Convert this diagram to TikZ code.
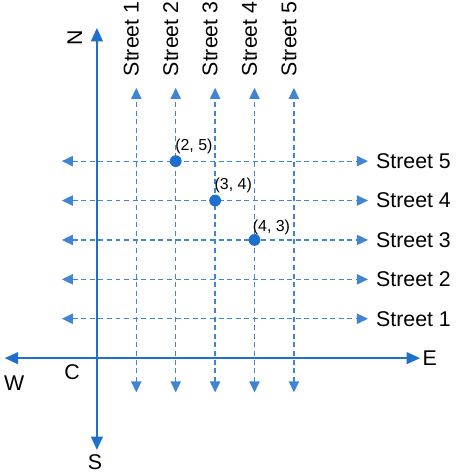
\documentclass[tikz,border=0pt]{standalone}
\usepackage{fontspec}
\setmainfont{Liberation Sans}
\usetikzlibrary{arrows.meta,calc}
\definecolor{mapblue}{RGB}{30,112,205}

\begin{document}
\begin{tikzpicture}[every node/.style={font=\fontsize{15.4}{18}\selectfont, inner sep=0pt},
  axis/.style={draw=mapblue, line width=1.3pt, -{Triangle[length=3.4mm, width=3mm]}},
  street/.style={draw=mapblue!85, line width=0.9pt, dash pattern=on 3.6pt off 2.6pt,
    {Triangle[length=2.8mm, width=2.6mm]}-{Triangle[length=2.8mm, width=2.6mm]}},
  spot/.style={circle, fill=mapblue, minimum size=3mm},
  plabel/.style={font=\fontsize{11.5}{13}\selectfont}]
\useasboundingbox (-2.46,-2.89) rectangle (9.09,9.09);
% axes
\coordinate (C) at (0,0);
\coordinate (northend) at (0,8.38);
\coordinate (southend) at (0,-2.33);
\coordinate (eastend) at (8.2,0);
\coordinate (westend) at (-2.34,0);
\draw[axis] (C) -- (northend);
\draw[axis] (C) -- (southend);
\draw[axis] (C) -- (eastend);
\draw[axis] (C) -- (westend);
\node[rotate=90] (lN) at (-0.56,8.12) {N};
\node (lS) at (-0.05,-2.64) {S};
\node (lE) at (8.45,0) {E};
\node (lW) at (-2.1,-0.63) {W};
\node (lC) at (-0.63,-0.36) {C};
% streets
\foreach \i in {1,...,5} {
  \coordinate (vb\i) at (\i,-0.87);
  \coordinate (vt\i) at (\i,6.86);
  \coordinate (hl\i) at (-0.89,\i);
  \coordinate (hr\i) at (6.88,\i);
  \draw[street] (vb\i) -- (vt\i);
  \draw[street] (hl\i) -- (hr\i);
  \node[rotate=90, anchor=base west] (top\i) at (\i+0.06,7.15) {Street \i};
  \node[anchor=west] (right\i) at (7.08,\i) {Street \i};
}
% places
\node[spot] (p25) at (2,5) {};
\node[spot] (p34) at (3,4) {};
\node[spot] (p43) at (4,3) {};
\node[plabel] (l25) at ($(p25)+(0.46,0.38)$) {(2, 5)};
\node[plabel] (l34) at ($(p34)+(0.46,0.38)$) {(3, 4)};
\node[plabel] (l43) at ($(p43)+(0.43,0.33)$) {(4, 3)};
\end{tikzpicture}
\end{document}
